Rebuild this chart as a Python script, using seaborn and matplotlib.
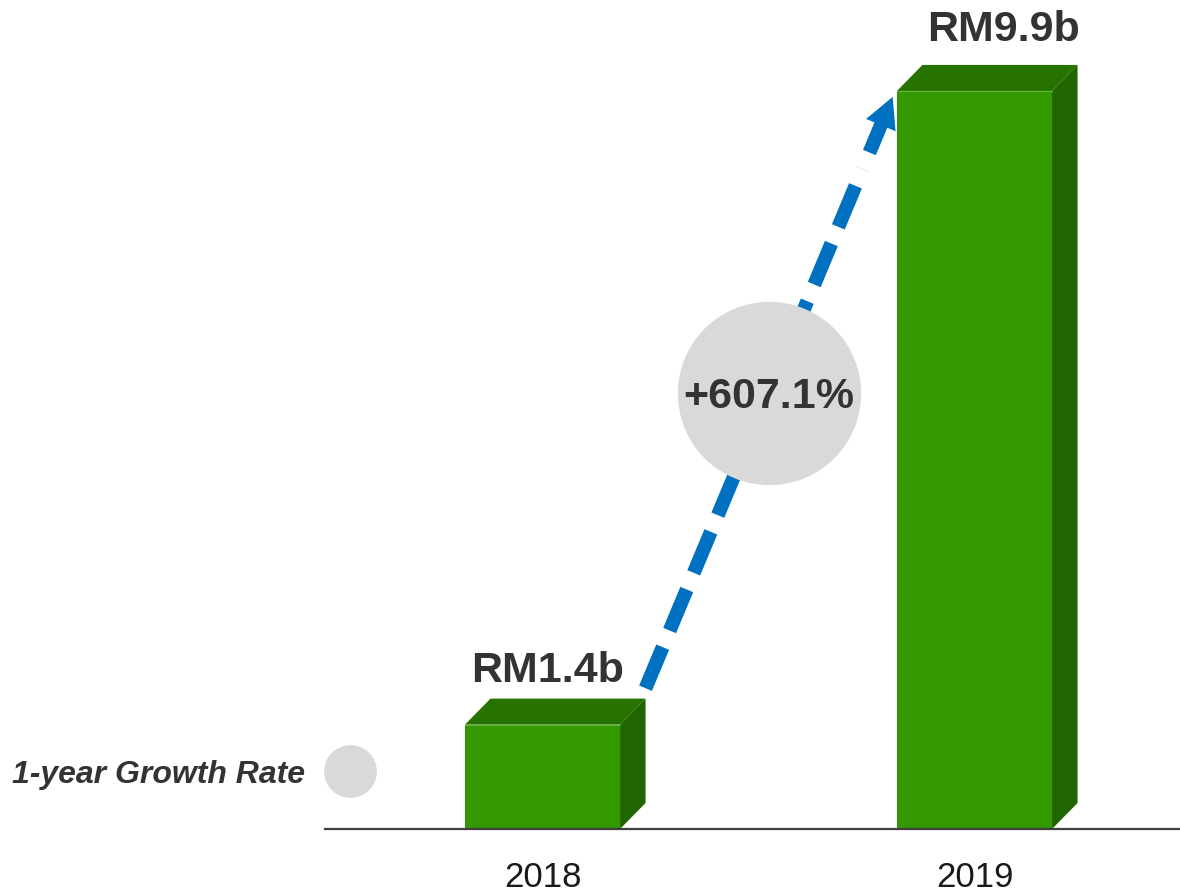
import numpy as np
import matplotlib
matplotlib.use("Agg")
import matplotlib.pyplot as plt
from matplotlib.patches import Polygon
import seaborn as sns

# data
years = ["2018", "2019"]
values = [1.4, 9.9]
value_labels = ["RM1.4b", "RM9.9b"]
growth_label = "+607.1%"
legend_label = "1-year Growth Rate"

# colours
front_col = "#339900"
top_col = "#267300"
side_col = "#1f6600"
arrow_col = "#0070c0"
bubble_col = "#d9d9d9"
text_col = "#333333"

sns.set_style("white")
plt.rcParams["font.family"] = ["Liberation Sans", "DejaVu Sans"]

fig = plt.figure(figsize=(11.8, 8.92), dpi=100)
ax = fig.add_axes([325 / 1180, 63 / 892, 855 / 1180, 829 / 892])

bar_w = 0.359
sns.barplot(x=years, y=values, color=front_col, saturation=1, width=bar_w, ax=ax,
            edgecolor="none", linewidth=0, zorder=2)
ax.set_xlim(-0.5035, 1.4757)
ax.set_ylim(0, 11.12)

# 3d depth of the bars (data units)
dx, dy = 0.059, 0.349
for p in ax.patches[:len(values)]:
    x0 = p.get_x()
    x1 = x0 + p.get_width()
    h = p.get_height()
    ax.add_patch(Polygon([(x0, h), (x0 + dx, h + dy), (x1 + dx, h + dy), (x1, h)],
                         closed=True, fc=top_col, ec="none", zorder=2))
    ax.add_patch(Polygon([(x1, 0), (x1 + dx, dy), (x1 + dx, h + dy), (x1, h)],
                         closed=True, fc=side_col, ec="none", zorder=2))
    # thin light rim along the front top edge
    ax.plot([x0, x1], [h, h], color="#5fb53a", lw=0.8, zorder=2.5)

# value labels
label_dx = [0.012, 0.068]
label_gap = [12, 17]
for i, (v, lab) in enumerate(zip(values, value_labels)):
    ax.annotate(lab, xy=(i + label_dx[i], v + dy), xytext=(0, label_gap[i]),
                textcoords="offset points", ha="center", va="baseline",
                fontsize=31, fontweight="bold", color=text_col, annotation_clip=False)

# growth arrow
tail = np.array([0 + bar_w / 2 + dx, values[0] + dy + 0.14])
tip = np.array([1 - bar_w / 2 - 0.01, values[1] - 0.08])
line_end = tail + 0.878 * (tip - tail)
head_start = tail + 0.906 * (tip - tail)
ax.plot([tail[0], line_end[0]], [tail[1], line_end[1]], color=arrow_col, lw=10,
        linestyle=(0, (3.2, 1.3)), dash_capstyle="butt", zorder=3)
ax.annotate("", xy=tip, xytext=head_start,
            arrowprops=dict(arrowstyle="simple,head_length=1.1,head_width=1.15,tail_width=0.5",
                            mutation_scale=20, fc=arrow_col, ec="none", shrinkA=0, shrinkB=0),
            zorder=3)

mid = (tail + tip) / 2
ax.scatter([mid[0]], [mid[1]], s=132 ** 2, color=bubble_col, linewidth=0, zorder=4)
ax.annotate(growth_label, xy=mid, xytext=(0, -3), textcoords="offset points",
            ha="center", va="center", fontsize=31, fontweight="bold", color=text_col, zorder=5)

# legend marker
ax.scatter([0.0292], [0.07], s=38 ** 2, color=bubble_col, linewidth=0,
           transform=ax.transAxes, clip_on=False, zorder=4)
fig.text(305 / 1180, (892 - 783) / 892, legend_label, ha="right", va="baseline",
         fontsize=23, fontweight="bold", fontstyle="italic", color=text_col)

# axes styling
for s in ["left", "top", "right"]:
    ax.spines[s].set_visible(False)
ax.spines["bottom"].set_color("#404040")
ax.spines["bottom"].set_linewidth(1.6)
ax.spines["bottom"].set_zorder(6)
ax.set_yticks([])
ax.set_xlabel("")
ax.set_ylabel("")
ax.tick_params(axis="x", length=0, pad=23, labelsize=25, labelcolor="#1a1a1a")

fig.savefig("out.png", dpi=100)
